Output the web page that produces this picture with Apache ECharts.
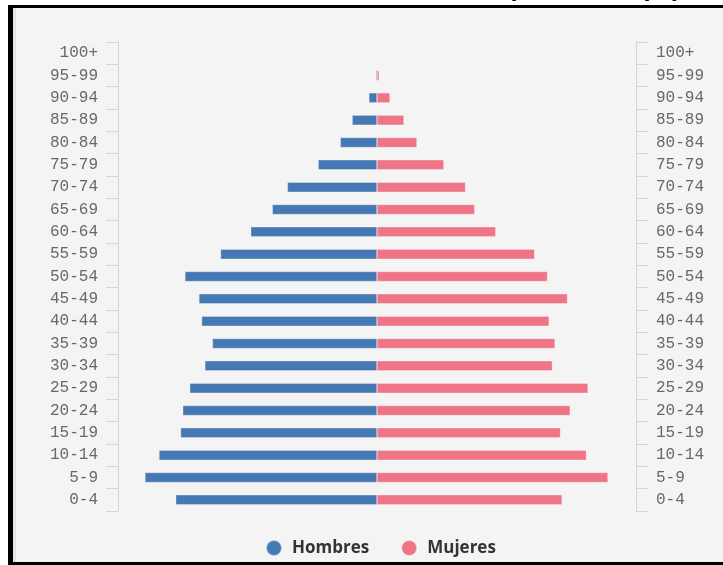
<!DOCTYPE html>
<html>
<head>
<meta charset="utf-8">
<script src="https://cdn.jsdelivr.net/npm/echarts@6/dist/echarts.min.js"></script>
<style>
html,body{margin:0;padding:0;background:#ffffff;}
#c{width:723px;height:565px;}
</style>
</head>
<body>
<div id="c"></div>
<script>
// Age groups, top to bottom as shown
var ageGroups = ['100+','95-99','90-94','85-89','80-84','75-79','70-74','65-69','60-64','55-59','50-54','45-49','40-44','35-39','30-34','25-29','20-24','15-19','10-14','5-9','0-4'];
// Percent of population
var hombres = [0.01,0.02,0.15,0.46,0.68,1.09,1.66,1.94,2.34,2.90,3.56,3.30,3.25,3.05,3.19,3.47,3.60,3.64,4.04,4.30,3.73];
var mujeres = [0.01,0.04,0.24,0.50,0.74,1.24,1.64,1.81,2.20,2.92,3.16,3.53,3.19,3.30,3.25,3.91,3.58,3.40,3.88,4.28,3.43];
var titleText = 'Pirámide de población (%)';
var seriesNames = ['Hombres','Mujeres'];

var chart = echarts.init(document.getElementById('c'), null, {renderer:'canvas'});
var labelFont = {color:'#686868', fontSize:16, fontFamily:'Liberation Mono'};
var axisCol = '#ccd6eb';
function catAxis(pos){
  return {
    type:'category', data:ageGroups, inverse:true, position:pos,
    axisLine:{show:true, onZero:false, lineStyle:{color:axisCol, width:1}},
    axisTick:{show:true, length:12, lineStyle:{color:axisCol}},
    axisLabel:Object.assign({margin:20}, labelFont),
    splitLine:{show:false}
  };
}
chart.setOption({
  backgroundColor:'#f4f4f4',
  animation:false,
  grid:{left:118, right:87, top:42, bottom:54, containLabel:false, outerBoundsMode:'none'},
  xAxis:{type:'value', min:-4.8, max:4.8, show:false},
  yAxis:[catAxis('left'), catAxis('right')],
  legend:{
    data:seriesNames, bottom:3, left:260, icon:'circle', itemWidth:26, itemHeight:16, itemGap:31,
    textStyle:{color:'#333333', fontSize:17, fontWeight:'bold', fontFamily:'Open Sans'}
  },
  series:[
    {name:seriesNames[0], type:'bar', stack:'p', yAxisIndex:0, barWidth:10,
     itemStyle:{color:'#4679b4', borderColor:'rgba(255,255,255,0.6)', borderWidth:0.5},
     data:hombres.map(function(v){return -v;})},
    {name:seriesNames[1], type:'bar', stack:'p', yAxisIndex:0, barWidth:10,
     itemStyle:{color:'#ee7486', borderColor:'rgba(255,255,255,0.6)', borderWidth:0.5},
     data:mujeres}
  ],
  graphic:[
    {type:'rect', silent:true, z:100, shape:{x:0,y:0,width:723,height:5}, style:{fill:'#ffffff'}},
    {type:'rect', silent:true, z:100, shape:{x:0,y:0,width:8,height:565}, style:{fill:'#ffffff'}},
    {type:'rect', silent:true, z:101, shape:{x:8,y:5,width:715,height:3}, style:{fill:'#000000'}},
    {type:'rect', silent:true, z:101, shape:{x:8,y:5,width:5,height:560}, style:{fill:'#000000'}},
    {type:'rect', silent:true, z:101, shape:{x:8,y:562,width:715,height:3}, style:{fill:'#000000'}},
    {type:'rect', silent:true, z:99, shape:{x:13,y:8,width:3,height:554}, style:{fill:'#e6e6e6'}},
    {type:'text', silent:true, z:102, style:{text:titleText, x:681, y:-11, align:'right', verticalAlign:'middle',
      font:'bold 26px "Liberation Sans"', fill:'#000000'}}
  ]
});
</script>
</body>
</html>
